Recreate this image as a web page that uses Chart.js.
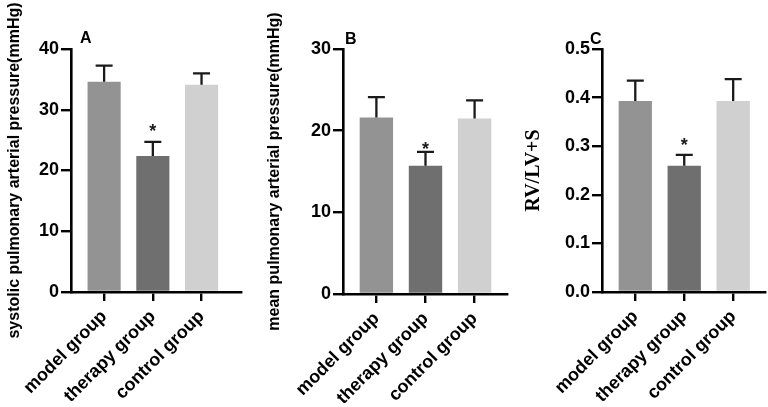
<!DOCTYPE html>
<html>
<head>
<meta charset="utf-8">
<script src="https://cdn.jsdelivr.net/npm/chart.js@4/dist/chart.umd.min.js"></script>
<style>
  body { margin: 0; background: #fff; width: 768px; height: 407px; position: relative; overflow: hidden; font-family: "Liberation Sans", Arial, sans-serif; }
  canvas { position: absolute; top: 0; }
  .tag { position: absolute; font-weight: bold; font-size: 16px; line-height: 16px; color: #000; }
</style>
</head>
<body>
<canvas id="chartA" width="256" height="407" style="left:0"></canvas>
<canvas id="chartB" width="250" height="407" style="left:260px"></canvas>
<canvas id="chartC" width="258" height="407" style="left:510px"></canvas>
<div class="tag" style="left:80px;top:30px">A</div>
<div class="tag" style="left:345px;top:31px">B</div>
<div class="tag" style="left:590px;top:31px">C</div>
<script>
const groups = ['model group', 'therapy group', 'control group'];
const barColors = ['#939393', '#6f6f6f', '#d0d0d0'];
const stars = ['', '*', ''];

// panel A - systolic PAP (mmHg)
const sbpMean = [34.6, 22.4, 34.1];
const sbpErr = [2.65, 2.3, 1.9];
const sbpStar = 27.2;
const sbpTicks = [0, 10, 20, 30, 40];

// panel B - mean PAP (mmHg)
const mpapMean = [21.6, 15.7, 21.5];
const mpapErr = [2.5, 1.7, 2.2];
const mpapStar = 18.3;
const mpapTicks = [0, 10, 20, 30];

// panel C - RV/LV+S
const rvMean = [0.393, 0.26, 0.393];
const rvErr = [0.042, 0.022, 0.045];
const rvStar = 0.31;
const rvTicks = [0, 0.1, 0.2, 0.3, 0.4, 0.5];

// error bars + asterisk drawn through the y scale
const errorBars = {
    id: 'errorBars',
    afterDatasetsDraw(chart, args, opts) {
        const { ctx } = chart;
        const y = chart.scales.y;
        const meta = chart.getDatasetMeta(0);
        const values = chart.data.datasets[0].data;
        ctx.save();
        ctx.strokeStyle = '#1a1a1a';
        ctx.lineWidth = 2.3;
        meta.data.forEach((bar, i) => {
            const top = y.getPixelForValue(values[i].y + opts.err[i]);
            ctx.beginPath();
            ctx.moveTo(bar.x, bar.y);
            ctx.lineTo(bar.x, top);
            ctx.moveTo(bar.x - 8.5, top);
            ctx.lineTo(bar.x + 8.5, top);
            ctx.stroke();
            if (stars[i]) {
                ctx.fillStyle = '#1a1a1a';
                ctx.font = 'bold 18px "Liberation Sans", Arial, sans-serif';
                ctx.textAlign = 'center';
                ctx.textBaseline = 'alphabetic';
                ctx.fillText(stars[i], bar.x, y.getPixelForValue(opts.star) + 10);
            }
        });
        ctx.restore();
    }
};

function makePanel(id, means, errs, star, ticks, cfg) {
    return new Chart(document.getElementById(id), {
        type: 'bar',
        data: {
            datasets: [{
                data: means.map((v, i) => ({ x: i, y: v })),
                backgroundColor: barColors,
                borderWidth: 0,
                categoryPercentage: 1,
                barPercentage: 0.68
            }]
        },
        options: {
            responsive: false,
            animation: false,
            devicePixelRatio: 1,
            layout: { padding: { top: 49, right: cfg.padRight, left: 0, bottom: 0 } },
            plugins: {
                legend: { display: false },
                tooltip: { enabled: false },
                errorBars: { err: errs, star: star }
            },
            scales: {
                x: {
                    type: 'linear',
                    offset: false,
                    bounds: 'data',
                    min: -0.68,
                    max: cfg.xMax,
                    afterBuildTicks: s => { s.ticks = groups.map((g, i) => ({ value: i })); },
                    afterFit: s => { s.height = cfg.xHeight; },
                    border: { color: '#000', width: 2.6 },
                    grid: { offset: false, drawOnChartArea: false, color: '#000', lineWidth: 2.4, tickLength: 9 },
                    ticks: {
                        autoSkip: false,
                        minRotation: 45,
                        maxRotation: 45,
                        padding: 5,
                        color: '#000',
                        font: { family: '"Liberation Sans", Arial, sans-serif', size: 18, weight: 'bold' },
                        callback: v => groups[v]
                    }
                },
                y: {
                    min: ticks[0],
                    max: ticks[ticks.length - 1],
                    afterBuildTicks: s => { s.ticks = ticks.map(v => ({ value: v })); },
                    afterFit: s => { s.width = cfg.yWidth; },
                    border: { color: '#000', width: 2.6 },
                    grid: { drawOnChartArea: false, color: '#000', lineWidth: 2.4, tickLength: 10 },
                    ticks: {
                        padding: 2,
                        color: '#000',
                        font: { family: '"Liberation Sans", Arial, sans-serif', size: 18, weight: 'bold' },
                        callback: v => cfg.fmt(v)
                    },
                    title: {
                        display: true,
                        text: cfg.title,
                        color: '#000',
                        font: cfg.titleFont,
                        padding: { top: cfg.titlePad, bottom: 0 }
                    }
                }
            }
        },
        plugins: [errorBars]
    });
}

const sansTitle = { family: '"Liberation Sans", Arial, sans-serif', size: 16, weight: 'bold' };

makePanel('chartA', sbpMean, sbpErr, sbpStar, sbpTicks, {
    title: 'systolic pulmonary arterial pressure(mmHg)', titleFont: sansTitle, titlePad: 5,
    yWidth: 71, xHeight: 115, xMax: 2.81, padRight: 15, fmt: v => String(v)
});
makePanel('chartB', mpapMean, mpapErr, mpapStar, mpapTicks, {
    title: 'mean pulmonary arterial pressure(mmHg)', titleFont: sansTitle, titlePad: 5,
    yWidth: 83, xHeight: 113, xMax: 2.66, padRight: 3, fmt: v => String(v)
});
makePanel('chartC', rvMean, rvErr, rvStar, rvTicks, {
    title: 'RV/LV+S', titleFont: { family: '"Liberation Serif", "Times New Roman", serif', size: 20, weight: 'bold' }, titlePad: 12,
    yWidth: 92, xHeight: 115, xMax: 2.65, padRight: 3, fmt: v => v.toFixed(1)
});
</script>
</body>
</html>
